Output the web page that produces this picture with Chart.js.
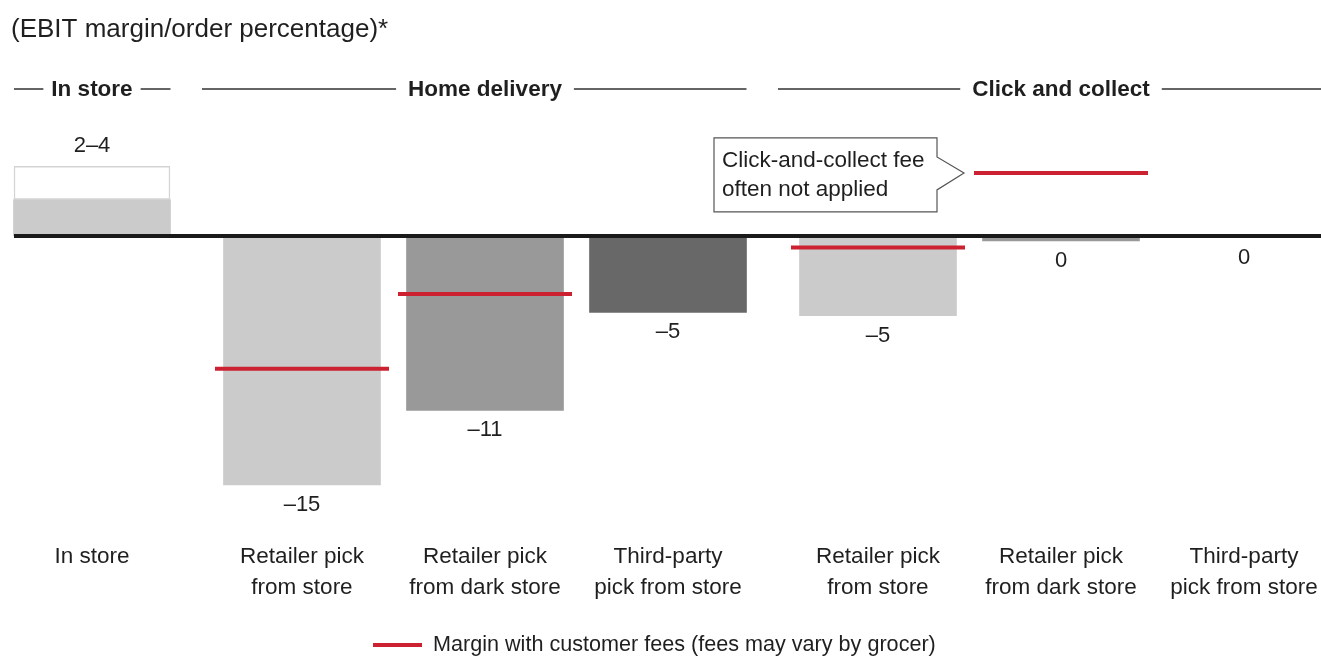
<!DOCTYPE html>
<html><head><meta charset="utf-8">
<script src="https://cdn.jsdelivr.net/npm/chart.js@4.4.1/dist/chart.umd.min.js"></script>
<style>html,body{margin:0;padding:0;background:#fff;}#wrap{width:1321px;height:659px;position:relative;}</style>
</head><body><div id="wrap"><canvas id="c"></canvas></div>
<script>
// ---- data ----
const titleText = '(EBIT margin/order percentage)*';
const groups = ['In store', 'Home delivery', 'Click and collect'];
const groupOf = [0, 1, 1, 1, 2, 2, 2];
const categories = [
  ['In store'],
  ['Retailer pick', 'from store'],
  ['Retailer pick', 'from dark store'],
  ['Third-party', 'pick from store'],
  ['Retailer pick', 'from store'],
  ['Retailer pick', 'from dark store'],
  ['Third-party', 'pick from store']
];
const ebitMargin = [2.2, -15, -10.5, -4.6, -4.8, -0.3, -0.1];
const inStoreRangeTop = 4.2;
const valueLabels = ['2–4', '–15', '–11', '–5', '–5', '0', '0'];
const feeMargin = [null, -8, -3.5, null, -0.7, 3.8, null];
const barColors = ['#cbcbcb', '#cbcbcb', '#999999', '#686868', '#cbcbcb', '#999999', '#686868'];
const legendLabel = 'Margin with customer fees (fees may vary by grocer)';
const calloutLines = ['Click-and-collect fee', 'often not applied'];
const calloutIndex = 5;

// ---- layout ----
const W = 1321, H = 659;
const SLOT_PX = 183, FIRST_CENTER_PX = 92, GROUP_GAP_PX = 27;
const SIDE_PAD = 100;
const ZERO_Y = 236, PX_PER_UNIT = 16.6, Y_MIN = -19, Y_MAX = 6;
const BAR_W = 157, FEE_HALF = 87;
const RED = '#cc2131', TEXT = '#1f1f1f';
const FONT = '"Liberation Sans", Arial, sans-serif';
const pos = i => i + groupOf[i] * GROUP_GAP_PX / SLOT_PX;

const cv = document.getElementById('c');
cv.width = W; cv.height = H;
cv.style.width = W + 'px'; cv.style.height = H + 'px';

const decor = {
  id: 'decor',
  afterDatasetsDraw(chart) {
    const ctx = chart.ctx, xs = chart.scales.x, ys = chart.scales.y;
    const px = i => xs.getPixelForValue(pos(i));
    ctx.save();
    // zero line
    const y0 = ys.getPixelForValue(0);
    ctx.strokeStyle = '#1a1a1a'; ctx.lineWidth = 4;
    ctx.beginPath(); ctx.moveTo(px(0) - BAR_W / 2 + 0.5, y0); ctx.lineTo(W, y0); ctx.stroke();

    // value labels
    ctx.fillStyle = TEXT; ctx.font = '22px ' + FONT;
    ctx.textAlign = 'center'; ctx.textBaseline = 'middle';
    valueLabels.forEach((lab, i) => {
      let y;
      if (i === 0) y = ys.getPixelForValue(inStoreRangeTop) - 20;
      else y = ys.getPixelForValue(ebitMargin[i]) + 20;
      ctx.fillText(lab, px(i), y);
    });

    // category labels
    ctx.font = '22.5px ' + FONT;
    categories.forEach((lines, i) => {
      lines.forEach((t, k) => ctx.fillText(t, px(i), 557 + k * 31));
    });

    // group headers
    ctx.font = 'bold 22.5px ' + FONT;
    ctx.strokeStyle = '#333'; ctx.lineWidth = 1.5;
    groups.forEach((g, gi) => {
      const idx = groupOf.map((v, i) => v === gi ? i : -1).filter(i => i >= 0);
      const first = idx[0], last = idx[idx.length - 1];
      const left = px(first) - BAR_W / 2 - (gi > 0 ? 22 : 0) + 0.5;
      const right = gi === groups.length - 1 ? W : px(last) + BAR_W / 2;
      const cx = (px(first) + px(last)) / 2;
      const tw = ctx.measureText(g).width;
      const gap = gi === 0 ? 8 : 12;
      ctx.beginPath();
      ctx.moveTo(left, 89); ctx.lineTo(cx - tw / 2 - gap, 89);
      ctx.moveTo(cx + tw / 2 + gap, 89); ctx.lineTo(right, 89);
      ctx.stroke();
      ctx.fillText(g, cx, 90);
    });

    // callout
    const tipX = px(calloutIndex) - FEE_HALF - 10;
    const tipY = ys.getPixelForValue(feeMargin[calloutIndex]);
    const r = tipX - 27, l = r - 223, t = tipY - 35, b = tipY + 39;
    ctx.beginPath();
    ctx.moveTo(l, t); ctx.lineTo(r, t); ctx.lineTo(r, tipY - 16); ctx.lineTo(tipX, tipY);
    ctx.lineTo(r, tipY + 17); ctx.lineTo(r, b); ctx.lineTo(l, b); ctx.closePath();
    ctx.fillStyle = '#fff'; ctx.fill();
    ctx.strokeStyle = '#555'; ctx.lineWidth = 1.2; ctx.stroke();
    ctx.fillStyle = TEXT; ctx.font = '22.5px ' + FONT; ctx.textAlign = 'left';
    calloutLines.forEach((s, k) => ctx.fillText(s, l + 8, tipY - 12 + k * 29));

    // title
    ctx.font = '26px ' + FONT; ctx.textAlign = 'left';
    ctx.fillText(titleText, 11, 30);

    // legend
    ctx.strokeStyle = RED; ctx.lineWidth = 4;
    ctx.beginPath(); ctx.moveTo(373, 645); ctx.lineTo(422, 645); ctx.stroke();
    ctx.font = '21.6px ' + FONT;
    ctx.fillText(legendLabel, 433, 645);
    ctx.restore();
  }
};

new Chart(cv, {
  type: 'bar',
  data: {
    datasets: [
      {
        type: 'line',
        label: legendLabel,
        data: feeMargin.map((v, i) => v === null ? null : { x: pos(i), y: v }).filter(p => p),
        showLine: false,
        pointStyle: 'line',
        pointRadius: FEE_HALF,
        pointHoverRadius: FEE_HALF,
        pointBorderWidth: 4,
        pointBorderColor: RED,
        borderColor: RED,
        clip: false,
        order: 1
      },
      {
        label: 'EBIT margin',
        data: ebitMargin.map((v, i) => ({ x: pos(i), y: v })),
        backgroundColor: barColors,
        barThickness: BAR_W,
        grouped: false,
        borderWidth: 0,
        clip: false,
        order: 2
      },
      {
        label: 'In-store range',
        data: [{ x: pos(0), y: [ebitMargin[0], inStoreRangeTop] }],
        backgroundColor: '#ffffff',
        borderColor: '#d4d4d4',
        borderWidth: 1.5,
        borderSkipped: false,
        barThickness: BAR_W - 1,
        grouped: false,
        clip: false,
        order: 3
      }
    ]
  },
  options: {
    responsive: false,
    animation: false,
    events: [],
    layout: { padding: { top: ZERO_Y - Y_MAX * PX_PER_UNIT, bottom: H - (ZERO_Y - Y_MIN * PX_PER_UNIT), left: SIDE_PAD, right: SIDE_PAD } },
    scales: {
      x: { type: 'linear', display: false, offset: false,
           min: (SIDE_PAD - FIRST_CENTER_PX) / SLOT_PX, max: (W - SIDE_PAD - FIRST_CENTER_PX) / SLOT_PX },
      y: { display: false, min: Y_MIN, max: Y_MAX }
    },
    plugins: { legend: { display: false }, tooltip: { enabled: false }, title: { display: false } }
  },
  plugins: [decor]
});
</script>
</body></html>
